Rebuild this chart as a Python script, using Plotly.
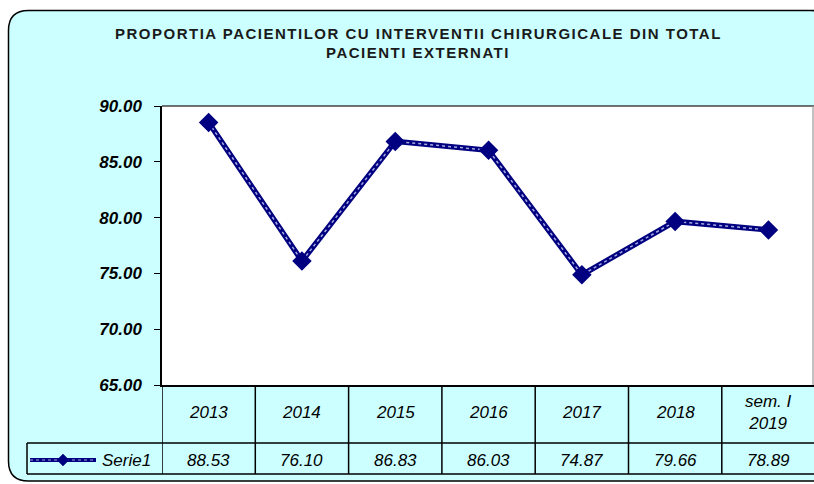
import plotly.graph_objects as go

# ---- data ----
categories = ["2013", "2014", "2015", "2016", "2017", "2018", "sem. I<br>2019"]
serie1 = [88.53, 76.10, 86.83, 86.03, 74.87, 79.66, 78.89]
series_name = "Serie1"
title_lines = ["PROPORTIA PACIENTILOR CU INTERVENTII CHIRURGICALE DIN TOTAL",
               "PACIENTI EXTERNATI"]
y_ticks = [65, 70, 75, 80, 85, 90]

W, H = 814, 484
L, R, T, B = 162, 0, 106, 99
PW, PH = W - L - R, H - T - B
COLW = 93.3

def px(x):
    return (x - L) / PW

def py(y):
    return (H - B - y) / PH

NAVY = "#000080"
CYAN = "#CCFFFF"
FONT = "Liberation Sans, Arial, sans-serif"

xs = list(range(len(categories)))

fig = go.Figure()
fig.add_trace(go.Scatter(x=xs, y=serie1, mode="lines",
                         line=dict(color=NAVY, width=5.5), hoverinfo="skip",
                         showlegend=False))
fig.add_trace(go.Scatter(x=xs, y=serie1, mode="lines+markers",
                         line=dict(color="#a8a8e0", width=1.5, dash="dot"),
                         marker=dict(symbol="diamond", size=15, color=NAVY),
                         name=series_name, showlegend=False, cliponaxis=False))

shapes = []

# outer rounded panel
l0, t0, r0, b0, rad = 8.5, 10.5, 831, 481, 20
pts = [("M", l0 + rad, t0), ("L", r0 - rad, t0), ("Q", r0, t0, r0, t0 + rad),
       ("L", r0, b0 - rad), ("Q", r0, b0, r0 - rad, b0), ("L", l0 + rad, b0),
       ("Q", l0, b0, l0, b0 - rad), ("L", l0, t0 + rad), ("Q", l0, t0, l0 + rad, t0)]
path = ""
for p in pts:
    cmd = p[0]
    coords = p[1:]
    seg = []
    for i in range(0, len(coords), 2):
        seg.append(f"{px(coords[i]):.5f},{py(coords[i+1]):.5f}")
    path += cmd + " " + " ".join(seg) + " "
path += "Z"
shapes.append(dict(type="path", xref="paper", yref="paper", path=path,
                   fillcolor=CYAN, line=dict(color="black", width=1.5), layer="below"))
# plot area background
shapes.append(dict(type="rect", xref="paper", yref="paper", x0=0, x1=1, y0=0, y1=1,
                   fillcolor="white", line=dict(width=0), layer="below"))
# plot area top & right border
shapes.append(dict(type="line", xref="paper", yref="paper", x0=0, x1=1, y0=1, y1=1,
                   line=dict(color="#444", width=1.5)))
shapes.append(dict(type="line", xref="paper", yref="paper", x0=px(813), x1=px(813), y0=0, y1=1,
                   line=dict(color="#999", width=1.2)))

# data table grid
for i in range(len(categories)):
    shapes.append(dict(type="line", xref="x", yref="paper", x0=i - 0.5, x1=i - 0.5,
                       y0=py(385), y1=py(474), line=dict(color="black", width=1.5)))
for yy in (443, 474):
    shapes.append(dict(type="line", xref="paper", yref="paper", x0=px(27), x1=1,
                       y0=py(yy), y1=py(yy), line=dict(color="black", width=1.5)))
shapes.append(dict(type="line", xref="paper", yref="paper", x0=px(27), x1=px(27),
                   y0=py(443), y1=py(474), line=dict(color="black", width=1.5)))

# legend key
shapes.append(dict(type="line", xref="paper", yref="paper", x0=px(30), x1=px(96),
                   y0=py(460), y1=py(460), line=dict(color=NAVY, width=4)))
shapes.append(dict(type="line", xref="paper", yref="paper", x0=px(30), x1=px(96),
                   y0=py(460), y1=py(460), line=dict(color="#a8a8e0", width=1.2, dash="dot")))
cx, cy, d = 63, 460, 6
shapes.append(dict(type="path", xref="paper", yref="paper",
                   path=f"M {px(cx-d):.5f},{py(cy):.5f} L {px(cx):.5f},{py(cy-d):.5f} "
                        f"L {px(cx+d):.5f},{py(cy):.5f} L {px(cx):.5f},{py(cy+d):.5f} Z",
                   fillcolor=NAVY, line=dict(color=NAVY, width=0.5)))

annotations = []
for j, line in enumerate(title_lines):
    annotations.append(dict(text=f"<span style='letter-spacing:1.5px'>{line}</span>",
                            xref="paper", yref="paper", x=px(418),
                            y=py(33.5 + 19 * j), xanchor="center", yanchor="middle",
                            showarrow=False,
                            font=dict(family=FONT, size=15, weight="bold",
                                      color="#1a1a1a")))
for i, c in enumerate(categories):
    annotations.append(dict(text=c, xref="x", yref="paper", x=i, y=py(412),
                            xanchor="center", yanchor="middle", showarrow=False,
                            font=dict(family=FONT, size=17, style="italic", color="black")))
    annotations.append(dict(text=f"{serie1[i]:.2f}", xref="x", yref="paper", x=i, y=py(460),
                            xanchor="center", yanchor="middle", showarrow=False,
                            font=dict(family=FONT, size=17, style="italic", color="black")))
annotations.append(dict(text=series_name, xref="paper", yref="paper", x=px(100), y=py(460),
                        xanchor="left", yanchor="middle", showarrow=False,
                        font=dict(family=FONT, size=17, style="italic", color="black")))

fig.update_layout(
    width=W, height=H,
    margin=dict(l=L, r=R, t=T, b=B, pad=0),
    paper_bgcolor="white", plot_bgcolor="rgba(0,0,0,0)",
    showlegend=False,
    shapes=shapes, annotations=annotations,
    xaxis=dict(range=[-0.5, -0.5 + PW / COLW], showticklabels=False, showgrid=False,
               zeroline=False, showline=True, linecolor="black", linewidth=2,
               ticks="", fixedrange=True),
    yaxis=dict(range=[65, 90], tickvals=y_ticks, tickformat=".2f", showgrid=False,
               zeroline=False, showline=True, linecolor="black", linewidth=1.5,
               ticks="outside", ticklen=6, tickcolor="black", tickwidth=1.2,
               ticklabelstandoff=9,
               tickfont=dict(family=FONT, size=17, weight="bold", style="italic",
                             color="black"),
               fixedrange=True),
)

fig.write_html("out.html", config={"displayModeBar": False},
               post_script="document.body.style.margin='0';"
                           "document.body.style.overflow='hidden';")
